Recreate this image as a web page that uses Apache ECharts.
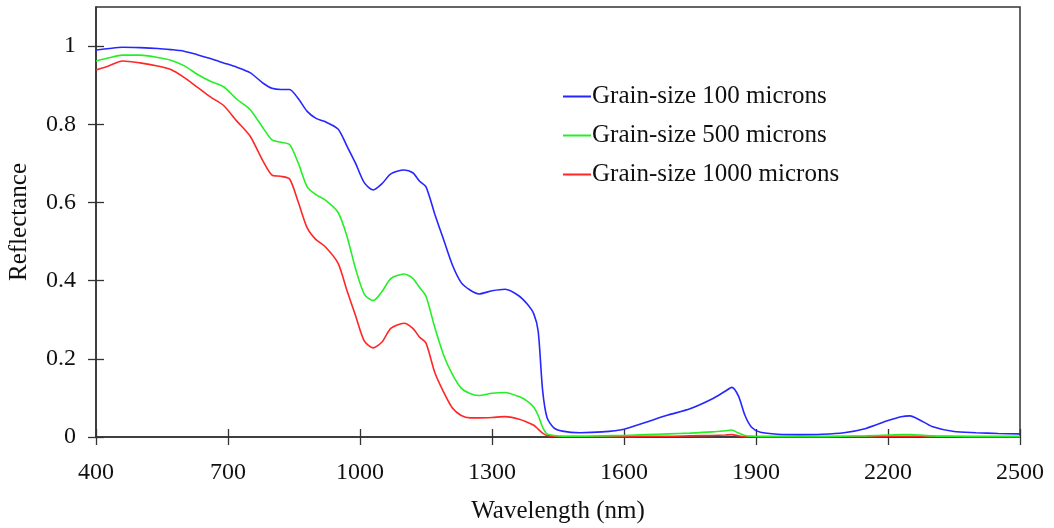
<!DOCTYPE html>
<html>
<head>
<meta charset="utf-8">
<script src="https://cdn.jsdelivr.net/npm/echarts@6/dist/echarts.min.js"></script>
<style>html,body{margin:0;padding:0;background:#fff}#c{width:1054px;height:528px}</style>
</head>
<body>
<div id="c"></div>
<script>
const wavelengths = [400,430,460,500,540,570,600,630,660,690,720,750,780,800,820,840,860,880,900,920,950,970,990,1010,1030,1050,1070,1100,1120,1135,1150,1170,1190,1210,1230,1250,1270,1300,1330,1360,1380,1395,1405,1415,1425,1440,1460,1500,1550,1600,1650,1700,1750,1800,1830,1845,1860,1875,1890,1910,1950,2000,2050,2100,2150,2200,2230,2250,2270,2300,2350,2400,2450,2500];
const grain100 = [0.990,0.994,0.997,0.996,0.994,0.991,0.987,0.978,0.968,0.957,0.946,0.932,0.905,0.892,0.889,0.889,0.865,0.833,0.815,0.807,0.788,0.745,0.700,0.650,0.632,0.648,0.673,0.683,0.676,0.655,0.640,0.570,0.505,0.440,0.395,0.376,0.366,0.374,0.378,0.362,0.340,0.315,0.270,0.120,0.050,0.024,0.015,0.011,0.013,0.020,0.038,0.056,0.072,0.097,0.117,0.127,0.105,0.055,0.025,0.012,0.007,0.006,0.007,0.011,0.022,0.042,0.052,0.054,0.045,0.027,0.014,0.011,0.009,0.008];
const grain500 = [0.962,0.970,0.977,0.977,0.971,0.964,0.950,0.928,0.910,0.896,0.864,0.838,0.790,0.760,0.754,0.748,0.700,0.640,0.620,0.607,0.575,0.515,0.430,0.365,0.349,0.372,0.405,0.417,0.406,0.383,0.360,0.280,0.210,0.160,0.125,0.111,0.106,0.112,0.114,0.104,0.092,0.076,0.055,0.025,0.008,0.004,0.002,0.002,0.003,0.004,0.006,0.008,0.010,0.013,0.016,0.018,0.010,0.004,0.002,0.001,0.001,0.001,0.001,0.002,0.003,0.005,0.006,0.006,0.005,0.003,0.002,0.001,0.001,0.001];
const grain1000 = [0.939,0.950,0.962,0.957,0.949,0.940,0.920,0.895,0.870,0.848,0.808,0.770,0.705,0.670,0.667,0.660,0.600,0.535,0.505,0.488,0.445,0.376,0.310,0.245,0.228,0.243,0.278,0.291,0.278,0.256,0.240,0.165,0.115,0.074,0.055,0.049,0.049,0.050,0.052,0.046,0.038,0.030,0.020,0.010,0.004,0.002,0.001,0.001,0.001,0.001,0.002,0.002,0.003,0.004,0.005,0.006,0.003,0.001,0.001,0.001,0.001,0.001,0.001,0.001,0.001,0.002,0.002,0.002,0.002,0.001,0.001,0.001,0.001,0.001];
const seriesNames = ['Grain-size 100 microns','Grain-size 500 microns','Grain-size 1000 microns'];
const seriesColors = ['#2626ff','#26ee26','#ff2626'];
const xTicks = [400,700,1000,1300,1600,1900,2200,2500];
const yTicks = [0,0.2,0.4,0.6,0.8,1];

const font = 'Liberation Serif';
const txt = '#111';
const axisCol = '#333';

function pairs(ys){ return wavelengths.map((x,i)=>[x, ys[i]]); }
const allSeries = [grain100, grain500, grain1000];

const chart = echarts.init(document.getElementById('c'), null, {renderer:'canvas'});
chart.setOption({
  animation: false,
  backgroundColor: '#fff',
  grid: {left: 96, right: 34, top: 7, bottom: 91, show: true, borderColor: axisCol, borderWidth: 1.5, backgroundColor: 'transparent', containLabel: false, outerBoundsMode: 'none'},
  legend: {
    orient: 'vertical', left: 558, top: 79, itemWidth: 28, itemHeight: 14, itemGap: 14,
    icon: 'path://M0,6 L28,6 L28,8 L0,8 Z',
    textStyle: {fontFamily: font, fontSize: 25, color: txt, padding: [0,0,0,-4]},
    data: seriesNames
  },
  xAxis: [{
    type: 'value', min: 400, max: 2500, interval: 300,
    name: 'Wavelength (nm)', nameLocation: 'middle', nameGap: 62,
    nameTextStyle: {fontFamily: font, fontSize: 25, color: txt},
    axisLine: {show: true, onZero: false, lineStyle: {color: axisCol, width: 1.5}},
    axisTick: {show: true, inside: false, length: 8, lineStyle: {color: axisCol, width: 1.3}, customValues: xTicks},
    axisLabel: {fontFamily: font, fontSize: 24, color: txt, margin: 24, customValues: xTicks, formatter: v => String(v)},
    splitLine: {show: false}
  },{
    type: 'value', min: 400, max: 2500, interval: 300, position: 'bottom',
    axisLine: {show: false},
    axisTick: {show: true, inside: true, length: 8, lineStyle: {color: axisCol, width: 1.3}, customValues: xTicks},
    axisLabel: {show: false},
    splitLine: {show: false}
  }],
  yAxis: [{
    type: 'value', min: 0, max: 1.1, interval: 0.2,
    name: 'Reflectance', nameLocation: 'middle', nameGap: 64,
    nameTextStyle: {fontFamily: font, fontSize: 25, color: txt},
    axisLine: {show: true, onZero: false, lineStyle: {color: axisCol, width: 1.5}},
    axisTick: {show: true, inside: false, length: 8, lineStyle: {color: axisCol, width: 1.3}, customValues: yTicks},
    axisLabel: {fontFamily: font, fontSize: 24, color: txt, margin: 20, customValues: yTicks, formatter: v => String(+v.toFixed(1))},
    splitLine: {show: false}
  },{
    type: 'value', min: 0, max: 1.1, interval: 0.2, position: 'left',
    axisLine: {show: false},
    axisTick: {show: true, inside: true, length: 8, lineStyle: {color: axisCol, width: 1.3}, customValues: yTicks},
    axisLabel: {show: false},
    splitLine: {show: false}
  }],
  series: allSeries.map((ys, i) => ({
    name: seriesNames[i], type: 'line', data: pairs(ys),
    xAxisIndex: 0, yAxisIndex: 0,
    symbol: 'none', smooth: 0.25,
    lineStyle: {color: seriesColors[i], width: 1.6},
    itemStyle: {color: seriesColors[i]},
    z: 3 - i
  }))
});
</script>
</body>
</html>
